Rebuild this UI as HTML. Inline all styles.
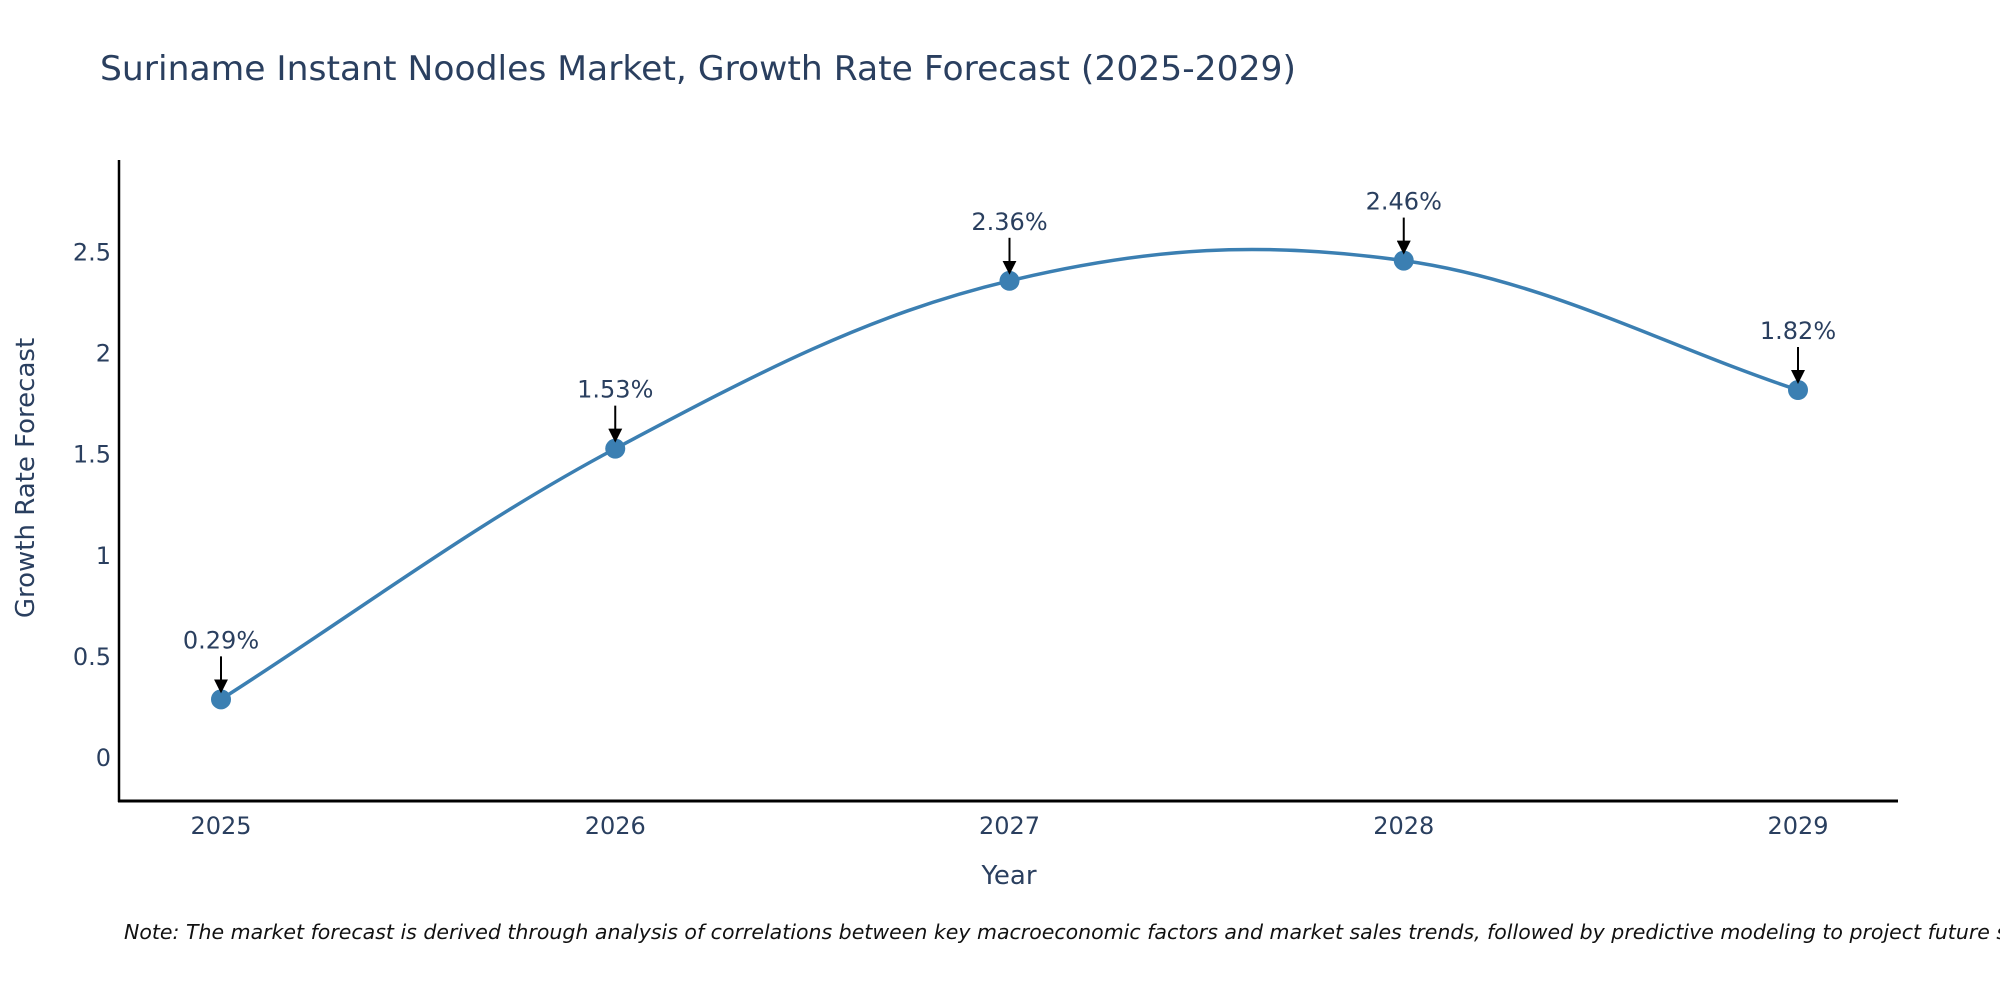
<!DOCTYPE html>
<html><head><meta charset="utf-8"><style>
html,body{margin:0;padding:0;background:#fff;}
svg{display:block;font-family:"DejaVu Sans","Liberation Sans",sans-serif;}
</style></head><body>
<svg id="chart" width="2000" height="1000" viewBox="0 0 2000 1000">
<defs><marker id="ah" markerWidth="7" markerHeight="7" refX="6" refY="3.5" orient="auto" markerUnits="strokeWidth"><path d="M0,0 L7,3.5 L0,7 z" fill="#000"/></marker></defs>
<text x="100" y="80" font-size="34" fill="#2a3f5f" textLength="1196" lengthAdjust="spacingAndGlyphs">Suriname Instant Noodles Market, Growth Rate Forecast (2025-2029)</text>
<g id="plot"></g>
<line x1="119" y1="160" x2="119" y2="802" stroke="#000" stroke-width="2.5"/>
<line x1="118" y1="801" x2="1898" y2="801" stroke="#000" stroke-width="3"/>
<text x="1009" y="884" font-size="26" fill="#2a3f5f" text-anchor="middle">Year</text>
<text x="0" y="0" font-size="26" fill="#2a3f5f" text-anchor="middle" transform="translate(34,478) rotate(-90)">Growth Rate Forecast</text>
<text x="124" y="939" font-size="20.5" font-style="italic" fill="#111">Note: The market forecast is derived through analysis of correlations between key macroeconomic factors and market sales trends, followed by predictive modeling to project future sales.</text>
</svg>
<script>
const years = [2025, 2026, 2027, 2028, 2029];
const growth = [0.29, 1.53, 2.36, 2.46, 1.82];
const yTicks = [0, 0.5, 1, 1.5, 2, 2.5];
const yTickLabels = ["0", "0.5", "1", "1.5", "2", "2.5"];

const NS = "http://www.w3.org/2000/svg";
const g = document.getElementById("plot");
function xS(v){ return 221 + (v - 2025) * 394.25; }
function yS(v){ return 758 - v * 202.2; }
function mk(tag, attrs){ const e = document.createElementNS(NS, tag); for (const k in attrs) e.setAttribute(k, attrs[k]); g.appendChild(e); return e; }

yTicks.forEach((t, i) => {
  const e = mk("text", {x: 111, y: yS(t) + 8, "font-size": 24, fill: "#2a3f5f", "text-anchor": "end"});
  e.textContent = yTickLabels[i];
  
  
});
years.forEach(y => {
  const e = mk("text", {x: xS(y), y: 834, "font-size": 24, fill: "#2a3f5f", "text-anchor": "middle"});
  e.textContent = String(y);
  
  
});

const pts = years.map((y, i) => [xS(y), yS(growth[i])]);
let d = "M" + pts[0][0] + "," + pts[0][1];
const s = 0.18;
const n = pts.length;
for (let i = 0; i < n - 1; i++) {
  const p1 = pts[i], p2 = pts[i + 1];
  let c1, c2;
  if (i === 0) c1 = [p1[0] + (p2[0] - p1[0]) * 0.33, p1[1] + (p2[1] - p1[1]) * 0.33];
  else { const p0 = pts[i - 1]; c1 = [p1[0] + (p2[0] - p0[0]) * s, p1[1] + (p2[1] - p0[1]) * s]; }
  if (i === n - 2) c2 = [p2[0] - (p2[0] - p1[0]) * 0.33, p2[1] - (p2[1] - p1[1]) * 0.33];
  else { const p3 = pts[i + 2]; c2 = [p2[0] - (p3[0] - p1[0]) * s, p2[1] - (p3[1] - p1[1]) * s]; }
  d += " C" + c1 + " " + c2 + " " + p2;
}
const line = mk("path", {d: d, fill: "none", stroke: "#3b7fb2", "stroke-width": 3.5});



pts.forEach((p, i) => {
  const c = mk("circle", {cx: p[0], cy: p[1], r: 10, fill: "#3b7fb2"});
  
  
  const a = mk("line", {x1: p[0], y1: p[1] - 43, x2: p[0], y2: p[1] - 8, stroke: "#000", "stroke-width": 2, "marker-end": "url(#ah)"});
  
  
  const t = mk("text", {x: p[0], y: p[1] - 51, "font-size": 24, fill: "#2a3f5f", "text-anchor": "middle"});
  t.textContent = growth[i].toFixed(2) + "%";
  
  
});
</script>
</body></html>
